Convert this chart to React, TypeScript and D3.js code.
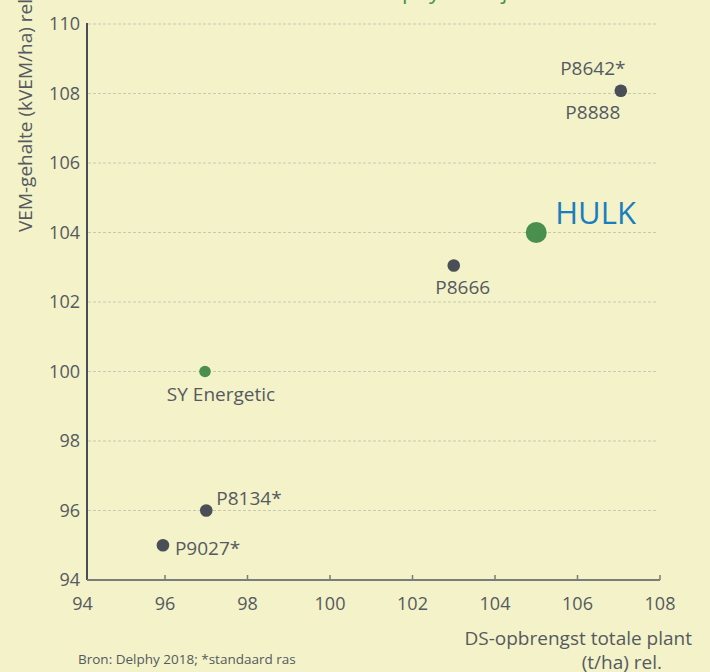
import * as d3 from 'd3';

type Ras = {
  name: string;
  x: number;
  y: number;
};

// DS-opbrengst (x) en VEM-gehalte (y), relatief
const standaardRassen: Ras[] = [
  { name: 'P8642*', x: 107.05, y: 108.08 },
  { name: 'P8666', x: 103, y: 103.05 },
  { name: 'P8134*', x: 97, y: 96 },
  { name: 'P9027*', x: 95.95, y: 95 },
];
const hulk: Ras = { name: 'HULK', x: 105, y: 104 };
const syEnergetic: Ras = { name: 'SY Energetic', x: 96.97, y: 100 };

const xTicks = [94, 96, 98, 100, 102, 104, 106, 108];
const yTicks = [94, 96, 98, 100, 102, 104, 106, 108, 110];

const WIDTH = 710;
const HEIGHT = 672;
const BG = '#f3f2c8';
const TEXT = '#555a60';
const DARK = '#4a4f57';
const GREEN = '#4b8f4e';
const FONT = '"Open Sans", sans-serif';

export default function App() {
  const xScale = d3.scaleLinear().domain([94, 108]).range([82.5, 660]);
  const yScale = d3.scaleLinear().domain([94, 110]).range([580, 24]);
  const axisX = 87;

  // label offsets per ras (relative to the dot)
  const labelPos: Record<string, { dx: number; dy: number; anchor: string }> = {
    'P8642*': { dx: -28, dy: -22, anchor: 'middle' },
    'P8666': { dx: 9, dy: 22, anchor: 'middle' },
    'P8134*': { dx: 10, dy: -12, anchor: 'start' },
    'P9027*': { dx: 12, dy: 3, anchor: 'start' },
  };

  return (
    <svg
      width={WIDTH}
      height={HEIGHT}
      style={{ position: 'absolute', left: 0, top: 0, background: BG }}
      fontFamily={FONT}
    >
      <rect width={WIDTH} height={HEIGHT} fill={BG} />

      {/* Title, mostly above the frame */}
      <text x={397} y={-1} textAnchor="middle" fontSize={22} fill={GREEN}>
        Resultaten Delphy 2018 jaar
      </text>

      {/* Gridlines */}
      {yTicks.map((t) => (
        <line
          key={'g' + t}
          x1={axisX + 1}
          x2={658}
          y1={yScale(t)}
          y2={yScale(t)}
          stroke="#c9c9b0"
          strokeWidth={1}
          strokeDasharray="3,2"
        />
      ))}

      {/* Y axis */}
      <line x1={axisX} x2={axisX} y1={yScale(110) - 1} y2={yScale(94)} stroke={DARK} strokeWidth={2} />
      {yTicks.map((t) => (
        <text
          key={'yt' + t}
          x={80}
          y={yScale(t)}
          dy="0.35em"
          textAnchor="end"
          fontSize={18}
          fill={TEXT}
        >
          {t}
        </text>
      ))}
      <text
        transform={`translate(32, 232) rotate(-90)`}
        textAnchor="start"
        fontSize={19}
        fill={TEXT}
      >
        VEM-gehalte (kVEM/ha) rel.
      </text>

      {/* X axis */}
      <line x1={axisX} x2={xScale(108)} y1={yScale(94)} y2={yScale(94)} stroke="#7a7d78" strokeWidth={2} />
      {xTicks.slice(1).map((t) => (
        <line
          key={'xtk' + t}
          x1={xScale(t)}
          x2={xScale(t)}
          y1={yScale(94)}
          y2={yScale(94) - 5}
          stroke="#7a7d78"
          strokeWidth={1.5}
        />
      ))}
      {xTicks.map((t) => (
        <text
          key={'xt' + t}
          x={xScale(t)}
          y={610}
          textAnchor="middle"
          fontSize={18}
          fill={TEXT}
        >
          {t}
        </text>
      ))}
      <text x={692} y={645} textAnchor="end" fontSize={19} fill={TEXT}>
        DS-opbrengst totale plant
      </text>
      <text x={662} y={669} textAnchor="end" fontSize={19} fill={TEXT}>
        (t/ha) rel.
      </text>

      {/* Bron */}
      <text x={78} y={664} fontSize={13.5} fill={TEXT}>
        Bron: Delphy 2018; *standaard ras
      </text>

      {/* Standaard rassen */}
      {standaardRassen.map((d) => {
        const p = labelPos[d.name];
        return (
          <g key={d.name}>
            <circle cx={xScale(d.x)} cy={yScale(d.y)} r={6.3} fill={DARK} />
            <text
              x={xScale(d.x) + p.dx}
              y={yScale(d.y) + p.dy}
              dy="0.35em"
              textAnchor={p.anchor}
              fontSize={19}
              fill={TEXT}
            >
              {d.name}
            </text>
          </g>
        );
      })}
      <text
        x={xScale(107.05) - 28}
        y={yScale(108.08) + 22}
        dy="0.35em"
        textAnchor="middle"
        fontSize={19}
        fill={TEXT}
      >
        P8888
      </text>

      {/* SY Energetic */}
      <circle cx={xScale(syEnergetic.x)} cy={yScale(syEnergetic.y)} r={5.8} fill={GREEN} />
      <text
        x={xScale(syEnergetic.x) + 16}
        y={yScale(syEnergetic.y) + 23}
        dy="0.35em"
        textAnchor="middle"
        fontSize={19}
        fill={TEXT}
      >
        {syEnergetic.name}
      </text>

      {/* HULK */}
      <circle cx={xScale(hulk.x)} cy={yScale(hulk.y)} r={10.5} fill={GREEN} />
      <text
        x={xScale(hulk.x) + 19}
        y={yScale(hulk.y) - 9}
        fontSize={31}
        fill="#1a7dc0"
      >
        {hulk.name}
      </text>
    </svg>
  );
}
